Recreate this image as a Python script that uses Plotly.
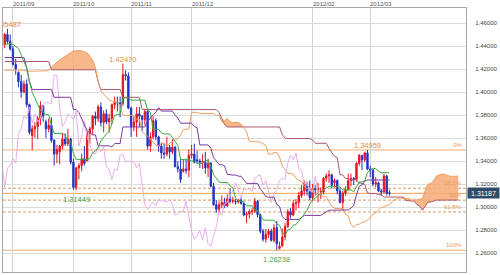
import numpy as np
import pandas as pd
import plotly.graph_objects as go

# ---------------- data (EUR/USD daily) ----------------
dates = [d.strftime("%Y-%m-%d") for d in pd.bdate_range("2011-08-29", "2012-03-12")]

open_ = [
 1.4410, 1.4500, 1.4440, 1.4375, 1.4240, 1.4170, 1.4090, 1.4000, 1.4070, 1.3890,
 1.3620, 1.3680, 1.3700, 1.3770, 1.3880, 1.3740, 1.3680, 1.3710, 1.3580, 1.3460,
 1.3480, 1.3530, 1.3590, 1.3550, 1.3590, 1.3390, 1.3170, 1.3340, 1.3360, 1.3420,
 1.3400, 1.3640, 1.3680, 1.3790, 1.3770, 1.3870, 1.3735, 1.3810, 1.3740, 1.3770,
 1.3890, 1.3910, 1.3905, 1.3900, 1.4150, 1.4140, 1.3860, 1.3700, 1.3740, 1.3810,
 1.3790, 1.3760, 1.3830, 1.3530, 1.3610, 1.3750, 1.3610, 1.3530, 1.3470, 1.3460,
 1.3520, 1.3480, 1.3520, 1.3350, 1.3330, 1.3310, 1.3330, 1.3320, 1.3450, 1.3460,
 1.3410, 1.3400, 1.3390, 1.3390, 1.3340, 1.3380, 1.3180, 1.3020, 1.2980, 1.3020,
 1.3040, 1.3010, 1.3070, 1.3050, 1.3050, 1.3045, 1.3060, 1.3030, 1.2930, 1.2940,
 1.2960, 1.2965, 1.3050, 1.2935, 1.2790, 1.2720, 1.2760, 1.2790, 1.2710, 1.2820,
 1.2640, 1.2660, 1.2740, 1.2830, 1.2960, 1.2930, 1.3030, 1.3040, 1.3100, 1.3140,
 1.3180, 1.3140, 1.3080, 1.3160, 1.3150, 1.3130, 1.3130, 1.3250, 1.3270, 1.3280,
 1.3210, 1.3230, 1.3140, 1.3040, 1.3120, 1.3150, 1.3230, 1.3250, 1.3240, 1.3380,
 1.3450, 1.3410, 1.3470, 1.3330, 1.3320, 1.3200, 1.3210, 1.3140, 1.3130, 1.3270,
 1.3125]

high = [
 1.4513, 1.45487, 1.4500, 1.4400, 1.4290, 1.4180, 1.4150, 1.4100, 1.4110, 1.3900,
 1.3710, 1.3740, 1.3790, 1.3920, 1.3890, 1.3760, 1.3770, 1.3780, 1.3590, 1.3540,
 1.3540, 1.3640, 1.3640, 1.3680, 1.3600, 1.3420, 1.3350, 1.3380, 1.3460, 1.3530,
 1.3660, 1.3700, 1.3800, 1.3830, 1.3890, 1.3910, 1.3840, 1.3850, 1.3810, 1.3900,
 1.3960, 1.3960, 1.3960, 1.4247, 1.4190, 1.4170, 1.3870, 1.3790, 1.3870, 1.3870,
 1.3800, 1.3850, 1.3850, 1.3650, 1.3790, 1.3770, 1.3620, 1.3560, 1.3550, 1.3610,
 1.3540, 1.3590, 1.3530, 1.3400, 1.3420, 1.3410, 1.3420, 1.3500, 1.3540, 1.3550,
 1.3490, 1.3420, 1.3460, 1.3480, 1.3420, 1.3390, 1.3210, 1.3060, 1.3050, 1.3100,
 1.3080, 1.3110, 1.3160, 1.3090, 1.3070, 1.3070, 1.3080, 1.3050, 1.2960, 1.2980,
 1.2990, 1.3080, 1.3060, 1.2940, 1.2810, 1.2810, 1.2810, 1.2810, 1.2850, 1.2880,
 1.2700, 1.2810, 1.2860, 1.2980, 1.2990, 1.3060, 1.3070, 1.3130, 1.3190, 1.3230,
 1.3220, 1.3230, 1.3200, 1.3190, 1.3210, 1.3170, 1.3260, 1.3290, 1.3320, 1.3290,
 1.3250, 1.3240, 1.3160, 1.3140, 1.3180, 1.3290, 1.3290, 1.3260, 1.3390, 1.3460,
 1.3450, 1.3480, 1.34959, 1.3360, 1.3330, 1.3260, 1.3220, 1.3160, 1.3290, 1.3280,
 1.3150]

low = [
 1.4380, 1.4420, 1.4360, 1.4230, 1.4150, 1.4040, 1.3950, 1.3990, 1.3870, 1.3630,
 1.3495, 1.3600, 1.3590, 1.3710, 1.3740, 1.3600, 1.3650, 1.3560, 1.3360, 1.3380,
 1.3370, 1.3500, 1.3530, 1.3530, 1.3370, 1.3150, 1.31449, 1.3240, 1.3310, 1.3360,
 1.3400, 1.3550, 1.3630, 1.3710, 1.3740, 1.3700, 1.3650, 1.3720, 1.3650, 1.3720,
 1.3850, 1.3830, 1.3780, 1.3880, 1.4100, 1.3850, 1.3610, 1.3660, 1.3610, 1.3700,
 1.3660, 1.3710, 1.3500, 1.3480, 1.3590, 1.3580, 1.3480, 1.3420, 1.3420, 1.3440,
 1.3420, 1.3460, 1.3350, 1.3300, 1.3210, 1.3300, 1.3290, 1.3260, 1.3420, 1.3380,
 1.3380, 1.3340, 1.3330, 1.3290, 1.3260, 1.3170, 1.3010, 1.2950, 1.2945, 1.2990,
 1.2990, 1.3000, 1.3030, 1.3030, 1.3020, 1.3030, 1.3020, 1.2920, 1.2860, 1.2900,
 1.2930, 1.2950, 1.2910, 1.2770, 1.2700, 1.2690, 1.2730, 1.2700, 1.2690, 1.26238,
 1.2630, 1.2660, 1.2710, 1.2820, 1.2900, 1.2920, 1.2970, 1.2990, 1.3080, 1.3100,
 1.3100, 1.3060, 1.3050, 1.3100, 1.3040, 1.3070, 1.3110, 1.3220, 1.3210, 1.3160,
 1.3170, 1.3110, 1.3030, 1.2975, 1.3100, 1.3150, 1.3180, 1.3190, 1.3220, 1.3360,
 1.3320, 1.3390, 1.3320, 1.3260, 1.3180, 1.3170, 1.3130, 1.3100, 1.3120, 1.3100,
 1.3100]

close = [
 1.4500, 1.4440, 1.4375, 1.4240, 1.4200, 1.4090, 1.4000, 1.4070, 1.3890, 1.3650,
 1.3680, 1.3700, 1.3770, 1.3880, 1.3790, 1.3680, 1.3710, 1.3580, 1.3460, 1.3500,
 1.3530, 1.3590, 1.3550, 1.3590, 1.3390, 1.3170, 1.3340, 1.3360, 1.3420, 1.3380,
 1.3640, 1.3680, 1.3790, 1.3770, 1.3870, 1.3735, 1.3810, 1.3740, 1.3770, 1.3890,
 1.3910, 1.3905, 1.3900, 1.4150, 1.4140, 1.3860, 1.3700, 1.3740, 1.3810, 1.3790,
 1.3760, 1.3830, 1.3530, 1.3610, 1.3750, 1.3610, 1.3530, 1.3470, 1.3460, 1.3520,
 1.3480, 1.3520, 1.3350, 1.3330, 1.3240, 1.3330, 1.3320, 1.3450, 1.3460, 1.3390,
 1.3400, 1.3390, 1.3395, 1.3340, 1.3380, 1.3180, 1.3020, 1.2980, 1.3020, 1.3040,
 1.3010, 1.3070, 1.3050, 1.3055, 1.3045, 1.3060, 1.3030, 1.2930, 1.2940, 1.2960,
 1.2965, 1.3050, 1.2935, 1.2790, 1.2720, 1.2760, 1.2790, 1.2710, 1.2820, 1.2680,
 1.2660, 1.2740, 1.2830, 1.2960, 1.2930, 1.3030, 1.3040, 1.3100, 1.3140, 1.3210,
 1.3140, 1.3080, 1.3160, 1.3150, 1.3160, 1.3135, 1.3250, 1.3270, 1.3280, 1.3190,
 1.3230, 1.3140, 1.3040, 1.3120, 1.3150, 1.3230, 1.3250, 1.3240, 1.3380, 1.3450,
 1.3410, 1.3470, 1.3330, 1.3320, 1.3200, 1.3210, 1.3140, 1.3130, 1.3270, 1.3120,
 1.31187]

# Ichimoku conversion line (green)
tenkan = [
 1.4414, 1.4420, 1.4420, 1.4414, 1.4400, 1.4380, 1.4320, 1.4256, 1.4209, 1.4089,
 1.3998, 1.3948, 1.3893, 1.3838, 1.3823, 1.3803, 1.3803, 1.3708, 1.3640, 1.3640,
 1.3640, 1.3640, 1.3625, 1.3570, 1.3570, 1.3465, 1.3412, 1.3412, 1.3412, 1.3412,
 1.3412, 1.3422, 1.3472, 1.3487, 1.3517, 1.3575, 1.3610, 1.3635, 1.3655, 1.3730,
 1.3795, 1.3805, 1.3805, 1.3949, 1.3949, 1.3949, 1.3929, 1.3929, 1.3929, 1.3929,
 1.3929, 1.3929, 1.3845, 1.3825, 1.3675, 1.3675, 1.3675, 1.3645, 1.3635, 1.3635,
 1.3635, 1.3605, 1.3570, 1.3535, 1.3415, 1.3410, 1.3410, 1.3410, 1.3400, 1.3400,
 1.3380, 1.3380, 1.3380, 1.3405, 1.3405, 1.3360, 1.3280, 1.3250, 1.3218, 1.3213,
 1.3213, 1.3213, 1.3183, 1.3168, 1.3078, 1.3053, 1.3053, 1.3040, 1.3010, 1.3010,
 1.3010, 1.2975, 1.2970, 1.2925, 1.2890, 1.2885, 1.2885, 1.2885, 1.2885, 1.2852,
 1.2842, 1.2782, 1.2752, 1.2802, 1.2807, 1.2842, 1.2847, 1.2877, 1.2910, 1.2945,
 1.2970, 1.3025, 1.3065, 1.3075, 1.3100, 1.3110, 1.3150, 1.3165, 1.3180, 1.3180,
 1.3180, 1.3180, 1.3175, 1.3148, 1.3148, 1.3148, 1.3148, 1.3133, 1.3183, 1.3218,
 1.3218, 1.3228, 1.3298, 1.3323, 1.3338, 1.3333, 1.3313, 1.3298, 1.3298, 1.3298,
 1.3298]

# Ichimoku base line (purple)
kijun = [
 1.4300, 1.4300, 1.4300, 1.4300, 1.4300, 1.4300, 1.4300, 1.4300, 1.4210, 1.4090,
 1.4022, 1.4022, 1.4022, 1.4022, 1.4022, 1.4022, 1.4022, 1.4022, 1.3954, 1.3954,
 1.3954, 1.3954, 1.3954, 1.3954, 1.3954, 1.3849, 1.3847, 1.3822, 1.3772, 1.3717,
 1.3662, 1.3647, 1.3627, 1.3627, 1.3532, 1.3532, 1.3532, 1.3532, 1.3532, 1.3522,
 1.3552, 1.3552, 1.3552, 1.3696, 1.3696, 1.3696, 1.3696, 1.3696, 1.3696, 1.3696,
 1.3696, 1.3696, 1.3744, 1.3779, 1.3804, 1.3824, 1.3864, 1.3834, 1.3834, 1.3834,
 1.3834, 1.3834, 1.3799, 1.3774, 1.3729, 1.3729, 1.3729, 1.3729, 1.3729, 1.3700,
 1.3690, 1.3540, 1.3540, 1.3540, 1.3540, 1.3510, 1.3430, 1.3400, 1.3368, 1.3368,
 1.3358, 1.3283, 1.3278, 1.3278, 1.3278, 1.3268, 1.3268, 1.3235, 1.3205, 1.3205,
 1.3205, 1.3205, 1.3205, 1.3160, 1.3125, 1.3090, 1.3085, 1.3085, 1.3085, 1.3022,
 1.3007, 1.2917, 1.2892, 1.2892, 1.2892, 1.2892, 1.2892, 1.2892, 1.2907, 1.2927,
 1.2927, 1.2927, 1.2927, 1.2927, 1.2927, 1.2927, 1.2942, 1.2957, 1.2972, 1.2972,
 1.2972, 1.2972, 1.2972, 1.2972, 1.2972, 1.2975, 1.2990, 1.3015, 1.3105, 1.3180,
 1.3190, 1.3225, 1.3235, 1.3235, 1.3235, 1.3235, 1.3235, 1.3235, 1.3235, 1.3235,
 1.3235]

# Leading span A / B, drawn from the first date and running 25 bars ahead
span_a = [
 1.4190, 1.4190, 1.4190, 1.4190, 1.4190, 1.4190, 1.4190, 1.4190, 1.4180, 1.4180,
 1.4180, 1.4180, 1.4180, 1.4180, 1.4185, 1.4185, 1.4185, 1.4215, 1.4240, 1.4260,
 1.4280, 1.4296, 1.4315, 1.4330, 1.4345, 1.4357, 1.4360, 1.4360, 1.4357, 1.4350,
 1.4340, 1.4310, 1.4278, 1.4210, 1.4090, 1.4010, 1.3985, 1.3957, 1.3930, 1.3922,
 1.3912, 1.3912, 1.3865, 1.3797, 1.3797, 1.3797, 1.3797, 1.3790, 1.3762, 1.3762,
 1.3657, 1.3630, 1.3617, 1.3592, 1.3565, 1.3537, 1.3535, 1.3550, 1.3557, 1.3525,
 1.3554, 1.3571, 1.3584, 1.3594, 1.3626, 1.3674, 1.3679, 1.3679, 1.3823, 1.3823,
 1.3823, 1.3813, 1.3813, 1.3813, 1.3813, 1.3813, 1.3813, 1.3795, 1.3802, 1.3740,
 1.3750, 1.3770, 1.3740, 1.3735, 1.3735, 1.3735, 1.3720, 1.3685, 1.3655, 1.3572,
 1.3570, 1.3570, 1.3570, 1.3565, 1.3550, 1.3535, 1.3460, 1.3460, 1.3473, 1.3473,
 1.3435, 1.3355, 1.3325, 1.3293, 1.3291, 1.3286, 1.3248, 1.3231, 1.3223, 1.3178,
 1.3161, 1.3161, 1.3138, 1.3108, 1.3108, 1.3108, 1.3090, 1.3088, 1.3043, 1.3008,
 1.2988, 1.2985, 1.2985, 1.2985, 1.2937, 1.2925, 1.2850, 1.2822, 1.2847, 1.2850,
 1.2867, 1.2870, 1.2885, 1.2909, 1.2936, 1.2949, 1.2976, 1.2996, 1.3001, 1.3014,
 1.3019, 1.3046, 1.3061, 1.3076, 1.3076, 1.3076, 1.3076, 1.3074, 1.3060, 1.3060,
 1.3062, 1.3069, 1.3074, 1.3144, 1.3199, 1.3204, 1.3227, 1.3267, 1.3279, 1.3287,
 1.3284, 1.3274, 1.3267, 1.3267, 1.3267, 1.3267]

span_b = [
 1.4265, 1.4265, 1.4265, 1.4265, 1.4265, 1.4265, 1.4265, 1.4265, 1.4265, 1.4265,
 1.4265, 1.4265, 1.4265, 1.4265, 1.4265, 1.4265, 1.4265, 1.4193, 1.4193, 1.4193,
 1.4193, 1.4193, 1.4193, 1.4193, 1.4193, 1.4193, 1.4193, 1.4193, 1.4193, 1.4193,
 1.4193, 1.4193, 1.4193, 1.4193, 1.4089, 1.4022, 1.4022, 1.4022, 1.4022, 1.4022,
 1.4022, 1.4022, 1.4022, 1.3954, 1.3954, 1.3954, 1.3954, 1.3954, 1.3954, 1.3954,
 1.3849, 1.3847, 1.3847, 1.3847, 1.3847, 1.3847, 1.3847, 1.3847, 1.3847, 1.3847,
 1.3847, 1.3847, 1.3847, 1.3847, 1.3847, 1.3847, 1.3847, 1.3847, 1.3847, 1.3847,
 1.3847, 1.3847, 1.3847, 1.3847, 1.3847, 1.3847, 1.3847, 1.3847, 1.3822, 1.3772,
 1.3717, 1.3696, 1.3696, 1.3696, 1.3696, 1.3696, 1.3696, 1.3696, 1.3696, 1.3696,
 1.3696, 1.3696, 1.3696, 1.3696, 1.3696, 1.3696, 1.3696, 1.3696, 1.3696, 1.3696,
 1.3696, 1.3629, 1.3599, 1.3596, 1.3596, 1.3596, 1.3596, 1.3596, 1.3596, 1.3596,
 1.3596, 1.3596, 1.3584, 1.3554, 1.3554, 1.3554, 1.3554, 1.3554, 1.3509, 1.3474,
 1.3440, 1.3430, 1.3280, 1.3280, 1.3247, 1.3247, 1.3237, 1.3237, 1.3237, 1.3207,
 1.3207, 1.3197, 1.3122, 1.3117, 1.3117, 1.3117, 1.3107, 1.3107, 1.3087, 1.3087,
 1.3087, 1.3087, 1.3087, 1.3087, 1.3087, 1.3087, 1.3057, 1.3052, 1.3052, 1.3052,
 1.3022, 1.3007, 1.2972, 1.3007, 1.3042, 1.3042, 1.3052, 1.3060, 1.3060, 1.3060,
 1.3060, 1.3060, 1.3060, 1.3060, 1.3060, 1.3060]

SHIFT = 25  # lagging span is drawn 25 bars back

month_labels = ["2011/09", "2011/10", "2011/11", "2011/12", "2012/02", "2012/03"]
y_ticks = [1.26, 1.28, 1.30, 1.32, 1.34, 1.36, 1.38, 1.40, 1.42, 1.44, 1.46]

fib_high = 1.34959
fib_low = 1.26238
fib_ratios = [0.0, 0.382, 0.5, 0.618, 1.0]
fib_text = ["0%", "38.2%", "50%", "61.8%", "100%"]
last_price = 1.31187

peak_dates = ["2011-08-30", "2011-10-27", "2012-02-29"]
trough_dates = ["2011-10-04", "2012-01-13"]

# ---------------- styling ----------------
RED = "#e8141c"
BLUE = "#2233c4"
GREEN_T = "#3aab3a"
PURPLE_K = "#7b3aa0"
PINK_C = "#e9aeea"
ORANGE_A = "#f0a060"
BROWN_B = "#a85a6e"
CLOUD = "rgba(246,170,118,0.85)"
FIB = "#f2aa70"
FIB_DASH = "#d79a66"
FONT = "Liberation Sans, Arial, sans-serif"

xs = list(range(len(dates)))
x_lag = [k - SHIFT for k in xs]
x_span = list(range(len(span_a)))
upper = np.maximum(np.array(span_a), np.array(span_b))

month_pos = []
for lab in month_labels:
    pref = lab.replace("/", "-")
    month_pos.append(next(k for k, d in enumerate(dates) if d.startswith(pref)))

fig = go.Figure()

# cloud fill (only where span A is above span B)
fig.add_trace(go.Scatter(x=x_span, y=span_b, mode="lines", line=dict(width=0),
                         hoverinfo="skip", showlegend=False))
fig.add_trace(go.Scatter(x=x_span, y=upper, mode="lines", line=dict(width=0),
                         fill="tonexty", fillcolor=CLOUD, hoverinfo="skip", showlegend=False))
fig.add_trace(go.Scatter(x=x_span, y=span_b, mode="lines", line=dict(color=BROWN_B, width=1),
                         showlegend=False))
fig.add_trace(go.Scatter(x=x_span, y=span_a, mode="lines", line=dict(color=ORANGE_A, width=1),
                         showlegend=False))
fig.add_trace(go.Scatter(x=x_lag, y=close, mode="lines", line=dict(color=PINK_C, width=1),
                         showlegend=False))
fig.add_trace(go.Scatter(x=xs, y=kijun, mode="lines", line=dict(color=PURPLE_K, width=1),
                         showlegend=False))
fig.add_trace(go.Scatter(x=xs, y=tenkan, mode="lines", line=dict(color=GREEN_T, width=1),
                         showlegend=False))

fig.add_trace(go.Candlestick(
    x=xs, open=open_, high=high, low=low, close=close,
    increasing=dict(line=dict(color=RED, width=1), fillcolor=RED),
    decreasing=dict(line=dict(color=BLUE, width=1), fillcolor=BLUE),
    whiskerwidth=0, showlegend=False))

pk = [dates.index(d) for d in peak_dates]
tr = [dates.index(d) for d in trough_dates]
# peak labels are clipped at the plot edge, like the original
fig.add_trace(go.Scatter(x=pk, y=[high[k] for k in pk], mode="text",
                         text=[f"{high[k]:.5f}" for k in pk], textposition="top center",
                         textfont=dict(color="#e58a3c", size=7.5, family=FONT),
                         cliponaxis=True, showlegend=False))

shapes = []
annotations = []
for k in tr:
    annotations.append(dict(xref="x", x=k, yref="y", y=low[k], yanchor="top", yshift=-3,
                            xanchor="center", text=f"{low[k]:.5f}", showarrow=False,
                            font=dict(color="#3fa63f", size=7.5, family=FONT)))

for r, t in zip(fib_ratios, fib_text):
    lvl = fib_high - r * (fib_high - fib_low)
    solid = r in (0.0, 1.0)
    shapes.append(dict(type="line", xref="paper", x0=0, x1=1, yref="y", y0=lvl, y1=lvl,
                       line=dict(color=FIB if solid else FIB_DASH, width=1,
                                 dash="solid" if solid else "3px,2px"),
                       layer="between"))
    annotations.append(dict(xref="paper", x=1, xanchor="right", xshift=-2, yref="y", y=lvl,
                            yanchor="bottom", text=t, showarrow=False,
                            font=dict(color="#e89a5a", size=6, family=FONT)))

shapes.append(dict(type="line", xref="paper", x0=0, x1=1, yref="y", y0=last_price, y1=last_price,
                   line=dict(color="#f0a050", width=1), layer="between"))
annotations.append(dict(xref="paper", x=1, xanchor="left", xshift=1, yref="y", y=last_price,
                        yanchor="middle", text=f"{last_price:.5f}", showarrow=False,
                        bgcolor="#2f4c68", width=31, height=10, borderpad=0,
                        font=dict(color="white", size=7, family=FONT)))

for lab, pos in zip(month_labels, month_pos):
    annotations.append(dict(xref="x", x=pos, xanchor="left", xshift=-2, yref="paper", y=1,
                            yanchor="bottom", yshift=-1, text=lab, showarrow=False,
                            font=dict(color="#555555", size=6, family=FONT)))

fig.update_layout(
    width=500, height=275, autosize=False,
    margin=dict(l=2, r=33, t=8, b=3),
    paper_bgcolor="white", plot_bgcolor="white",
    showlegend=False, shapes=shapes, annotations=annotations,
    xaxis=dict(range=[-0.62, 167.85], tickvals=month_pos, showticklabels=False,
               showgrid=True, gridcolor="#d4d4d4", gridwidth=1, zeroline=False,
               showline=True, mirror=True, linecolor="#a8a8a8", linewidth=1,
               rangeslider=dict(visible=False), fixedrange=True),
    yaxis=dict(range=[1.24348, 1.47304], side="right", tickvals=y_ticks,
               tickformat=".5f", showgrid=True, gridcolor="#dcdcdc", gridwidth=1,
               zeroline=False, showline=True, mirror=True, linecolor="#a8a8a8", linewidth=1,
               ticks="", ticklabelstandoff=7,
               tickfont=dict(size=6, color="#444444", family=FONT), fixedrange=True),
)

fig.write_html("out.html")
